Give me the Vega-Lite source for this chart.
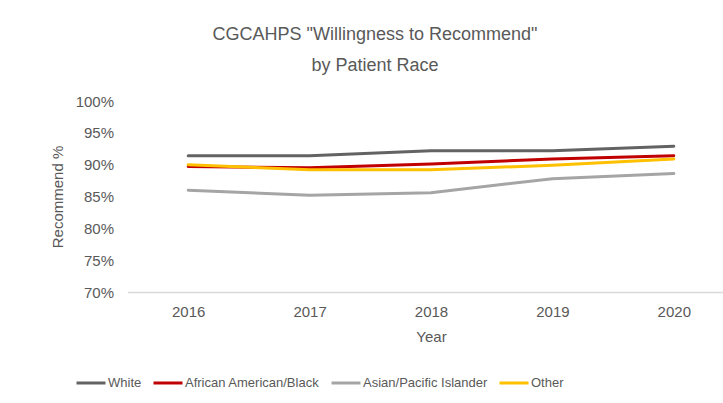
{
  "$schema": "https://vega.github.io/schema/vega-lite/v6.json",
  "width": 607,
  "height": 191,
  "autosize": "none",
  "padding": {"left": 127.5, "top": 101, "right": 0, "bottom": 111},
  "background": "white",
  "config": {
    "font": "Liberation Sans",
    "view": {"stroke": null},
    "axis": {"labelColor": "#595959", "titleColor": "#595959", "labelFont": "Liberation Sans", "titleFont": "Liberation Sans", "titleFontWeight": "normal"}
  },
  "title": {
    "text": ["CGCAHPS \"Willingness to Recommend\"", "by Patient Race"],
    "fontSize": 18,
    "fontWeight": "normal",
    "color": "#595959",
    "lineHeight": 31,
    "anchor": "middle",
    "dx": -56,
    "offset": 19
  },
  "data": {
    "values": [
      {"year": "2016", "race": "White", "value": 91.4},
      {"year": "2017", "race": "White", "value": 91.4},
      {"year": "2018", "race": "White", "value": 92.2},
      {"year": "2019", "race": "White", "value": 92.2},
      {"year": "2020", "race": "White", "value": 92.9},
      {"year": "2016", "race": "African American/Black", "value": 89.7},
      {"year": "2017", "race": "African American/Black", "value": 89.5},
      {"year": "2018", "race": "African American/Black", "value": 90.1},
      {"year": "2019", "race": "African American/Black", "value": 90.9},
      {"year": "2020", "race": "African American/Black", "value": 91.4},
      {"year": "2016", "race": "Asian/Pacific Islander", "value": 86.0},
      {"year": "2017", "race": "Asian/Pacific Islander", "value": 85.2},
      {"year": "2018", "race": "Asian/Pacific Islander", "value": 85.6},
      {"year": "2019", "race": "Asian/Pacific Islander", "value": 87.8},
      {"year": "2020", "race": "Asian/Pacific Islander", "value": 88.6},
      {"year": "2016", "race": "Other", "value": 90.0},
      {"year": "2017", "race": "Other", "value": 89.2},
      {"year": "2018", "race": "Other", "value": 89.2},
      {"year": "2019", "race": "Other", "value": 89.9},
      {"year": "2020", "race": "Other", "value": 90.9}
    ]
  },
  "mark": {"type": "line", "strokeWidth": 3, "strokeCap": "round"},
  "encoding": {
    "x": {
      "field": "year",
      "type": "ordinal",
      "scale": {"type": "point", "padding": 0.5},
      "axis": {"title": "Year", "labelAngle": 0, "labelFontSize": 15, "titleFontSize": 15, "labelPadding": 12, "titlePadding": 10, "ticks": false, "domainColor": "#d9d9d9", "domainWidth": 1.5, "grid": false}
    },
    "y": {
      "field": "value",
      "type": "quantitative",
      "scale": {"domain": [70, 100], "nice": false, "zero": false},
      "axis": {"title": "Recommend %", "values": [70, 75, 80, 85, 90, 95, 100], "labelExpr": "datum.value + '%'", "labelFontSize": 15, "titleFontSize": 15, "labelPadding": 14, "titlePadding": 10, "ticks": false, "domain": false, "grid": false}
    },
    "color": {
      "field": "race",
      "type": "nominal",
      "scale": {
        "domain": ["White", "African American/Black", "Asian/Pacific Islander", "Other"],
        "range": ["#636363", "#C00000", "#A5A5A5", "#FFC000"]
      },
      "legend": {
        "title": null,
        "orient": "none",
        "direction": "horizontal",
        "legendX": -52.5,
        "legendY": 266,
        "symbolType": "stroke",
        "symbolSize": 841,
        "symbolStrokeWidth": 3,
        "labelFontSize": 13,
        "labelColor": "#595959",
        "labelOffset": 1,
        "columnPadding": 5
      }
    }
  }
}
